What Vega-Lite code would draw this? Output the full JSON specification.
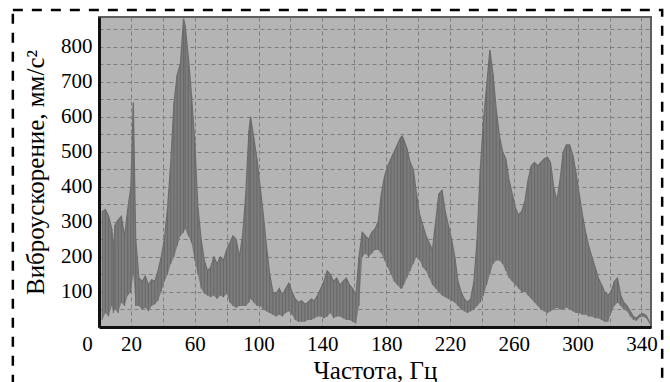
{
  "$schema": "https://vega.github.io/schema/vega-lite/v6.json",
  "width": 552,
  "height": 310,
  "autosize": {"type": "none"},
  "padding": {"left": 99, "top": 17, "right": 19, "bottom": 55},
  "background": "white",
  "config": {
    "view": {"fill": "#b4b4b4", "stroke": "#5e5e5e", "strokeWidth": 2},
    "axis": {"labelFont": "Liberation Serif", "titleFont": "Liberation Serif", "labelFontSize": 21, "titleFontSize": 25, "labelColor": "black", "titleColor": "black", "titleFontWeight": "normal", "ticks": false, "domainColor": "#111111", "domainWidth": 3, "gridColor": "#7e7e7e", "gridDash": [4, 3], "gridWidth": 1, "labelOverlap": false, "labelFlush": false, "labelBound": false}
  },
  "datasets": {
    "spec": [
      {"f": 2, "lo": 20, "hi": 330}, {"f": 4, "lo": 40, "hi": 335}, {"f": 6, "lo": 30, "hi": 316}, {"f": 8, "lo": 60, "hi": 280},
      {"f": 9, "lo": 40, "hi": 220}, {"f": 10, "lo": 50, "hi": 290}, {"f": 12, "lo": 40, "hi": 306}, {"f": 14, "lo": 70, "hi": 316},
      {"f": 16, "lo": 60, "hi": 258}, {"f": 18, "lo": 90, "hi": 335}, {"f": 20, "lo": 100, "hi": 400}, {"f": 21.5, "lo": 150, "hi": 640},
      {"f": 23, "lo": 60, "hi": 250}, {"f": 25, "lo": 60, "hi": 140}, {"f": 27, "lo": 50, "hi": 130}, {"f": 29, "lo": 55, "hi": 145},
      {"f": 31, "lo": 45, "hi": 120}, {"f": 33, "lo": 60, "hi": 135}, {"f": 35, "lo": 65, "hi": 130}, {"f": 37, "lo": 75, "hi": 160},
      {"f": 39, "lo": 100, "hi": 200}, {"f": 41, "lo": 130, "hi": 250}, {"f": 43, "lo": 150, "hi": 340}, {"f": 45, "lo": 180, "hi": 470},
      {"f": 47, "lo": 200, "hi": 640}, {"f": 49, "lo": 230, "hi": 720}, {"f": 51, "lo": 260, "hi": 750}, {"f": 53, "lo": 270, "hi": 880},
      {"f": 54, "lo": 280, "hi": 860}, {"f": 56, "lo": 260, "hi": 770}, {"f": 58, "lo": 240, "hi": 660}, {"f": 60, "lo": 190, "hi": 530},
      {"f": 62, "lo": 150, "hi": 340}, {"f": 64, "lo": 110, "hi": 250}, {"f": 66, "lo": 95, "hi": 190}, {"f": 68, "lo": 90, "hi": 160},
      {"f": 70, "lo": 85, "hi": 170}, {"f": 72, "lo": 90, "hi": 200}, {"f": 74, "lo": 80, "hi": 180}, {"f": 76, "lo": 90, "hi": 200},
      {"f": 78, "lo": 85, "hi": 190}, {"f": 80, "lo": 95, "hi": 220}, {"f": 82, "lo": 70, "hi": 240}, {"f": 84, "lo": 60, "hi": 260},
      {"f": 86, "lo": 55, "hi": 250}, {"f": 88, "lo": 60, "hi": 200}, {"f": 90, "lo": 60, "hi": 260}, {"f": 92, "lo": 60, "hi": 380},
      {"f": 94, "lo": 70, "hi": 560}, {"f": 95, "lo": 80, "hi": 600}, {"f": 97, "lo": 70, "hi": 540}, {"f": 99, "lo": 60, "hi": 480},
      {"f": 101, "lo": 60, "hi": 400}, {"f": 103, "lo": 50, "hi": 320}, {"f": 105, "lo": 45, "hi": 230}, {"f": 107, "lo": 40, "hi": 150},
      {"f": 109, "lo": 35, "hi": 100}, {"f": 111, "lo": 30, "hi": 95}, {"f": 113, "lo": 35, "hi": 110}, {"f": 115, "lo": 30, "hi": 90},
      {"f": 117, "lo": 40, "hi": 110}, {"f": 119, "lo": 45, "hi": 125}, {"f": 121, "lo": 35, "hi": 100}, {"f": 123, "lo": 20, "hi": 80},
      {"f": 125, "lo": 15, "hi": 70}, {"f": 127, "lo": 15, "hi": 75}, {"f": 129, "lo": 15, "hi": 65}, {"f": 131, "lo": 20, "hi": 70},
      {"f": 133, "lo": 20, "hi": 80}, {"f": 135, "lo": 25, "hi": 75}, {"f": 137, "lo": 30, "hi": 90}, {"f": 139, "lo": 30, "hi": 110},
      {"f": 141, "lo": 25, "hi": 130}, {"f": 143, "lo": 30, "hi": 160}, {"f": 145, "lo": 40, "hi": 150}, {"f": 147, "lo": 25, "hi": 130},
      {"f": 149, "lo": 30, "hi": 140}, {"f": 151, "lo": 30, "hi": 120}, {"f": 153, "lo": 25, "hi": 130}, {"f": 155, "lo": 20, "hi": 140},
      {"f": 157, "lo": 20, "hi": 120}, {"f": 159, "lo": 15, "hi": 110}, {"f": 161, "lo": 10, "hi": 90}, {"f": 163, "lo": 60, "hi": 200},
      {"f": 165, "lo": 200, "hi": 270}, {"f": 167, "lo": 210, "hi": 260}, {"f": 169, "lo": 200, "hi": 250}, {"f": 171, "lo": 210, "hi": 270},
      {"f": 173, "lo": 220, "hi": 280}, {"f": 175, "lo": 220, "hi": 300}, {"f": 177, "lo": 210, "hi": 380}, {"f": 179, "lo": 190, "hi": 430},
      {"f": 181, "lo": 170, "hi": 460}, {"f": 183, "lo": 150, "hi": 480}, {"f": 185, "lo": 130, "hi": 500}, {"f": 187, "lo": 120, "hi": 520},
      {"f": 189, "lo": 110, "hi": 540}, {"f": 190, "lo": 110, "hi": 545}, {"f": 191, "lo": 120, "hi": 535}, {"f": 193, "lo": 140, "hi": 510},
      {"f": 195, "lo": 160, "hi": 470}, {"f": 197, "lo": 180, "hi": 450}, {"f": 199, "lo": 200, "hi": 380}, {"f": 201, "lo": 190, "hi": 320},
      {"f": 203, "lo": 170, "hi": 290}, {"f": 205, "lo": 160, "hi": 260}, {"f": 207, "lo": 140, "hi": 240}, {"f": 209, "lo": 120, "hi": 220},
      {"f": 211, "lo": 110, "hi": 300}, {"f": 213, "lo": 100, "hi": 380}, {"f": 215, "lo": 90, "hi": 390}, {"f": 217, "lo": 85, "hi": 330},
      {"f": 219, "lo": 80, "hi": 290}, {"f": 221, "lo": 75, "hi": 250}, {"f": 223, "lo": 70, "hi": 200}, {"f": 225, "lo": 60, "hi": 130},
      {"f": 227, "lo": 50, "hi": 100}, {"f": 229, "lo": 45, "hi": 80}, {"f": 231, "lo": 40, "hi": 70}, {"f": 233, "lo": 45, "hi": 80},
      {"f": 235, "lo": 50, "hi": 130}, {"f": 237, "lo": 60, "hi": 250}, {"f": 239, "lo": 70, "hi": 450}, {"f": 241, "lo": 90, "hi": 590},
      {"f": 243, "lo": 120, "hi": 690}, {"f": 245, "lo": 150, "hi": 790}, {"f": 247, "lo": 180, "hi": 720}, {"f": 249, "lo": 190, "hi": 620},
      {"f": 251, "lo": 190, "hi": 545}, {"f": 253, "lo": 180, "hi": 500}, {"f": 255, "lo": 160, "hi": 480}, {"f": 257, "lo": 140, "hi": 420},
      {"f": 259, "lo": 130, "hi": 380}, {"f": 261, "lo": 120, "hi": 340}, {"f": 263, "lo": 110, "hi": 320}, {"f": 265, "lo": 100, "hi": 330},
      {"f": 267, "lo": 100, "hi": 360}, {"f": 269, "lo": 90, "hi": 420}, {"f": 271, "lo": 80, "hi": 460}, {"f": 273, "lo": 70, "hi": 470},
      {"f": 275, "lo": 60, "hi": 460}, {"f": 277, "lo": 50, "hi": 470}, {"f": 279, "lo": 45, "hi": 480}, {"f": 281, "lo": 40, "hi": 485},
      {"f": 283, "lo": 45, "hi": 470}, {"f": 285, "lo": 50, "hi": 400}, {"f": 287, "lo": 55, "hi": 360}, {"f": 289, "lo": 50, "hi": 420},
      {"f": 291, "lo": 50, "hi": 500}, {"f": 293, "lo": 55, "hi": 520}, {"f": 295, "lo": 50, "hi": 520}, {"f": 297, "lo": 45, "hi": 490},
      {"f": 299, "lo": 40, "hi": 440}, {"f": 301, "lo": 40, "hi": 380}, {"f": 303, "lo": 35, "hi": 320}, {"f": 305, "lo": 35, "hi": 270},
      {"f": 307, "lo": 30, "hi": 230}, {"f": 309, "lo": 30, "hi": 200}, {"f": 311, "lo": 25, "hi": 170}, {"f": 313, "lo": 25, "hi": 140},
      {"f": 315, "lo": 20, "hi": 120}, {"f": 317, "lo": 15, "hi": 100}, {"f": 319, "lo": 15, "hi": 90}, {"f": 321, "lo": 40, "hi": 100},
      {"f": 323, "lo": 60, "hi": 130}, {"f": 325, "lo": 70, "hi": 140}, {"f": 327, "lo": 60, "hi": 90}, {"f": 329, "lo": 50, "hi": 70},
      {"f": 331, "lo": 45, "hi": 60}, {"f": 333, "lo": 30, "hi": 45}, {"f": 335, "lo": 20, "hi": 30}, {"f": 337, "lo": 18, "hi": 25},
      {"f": 339, "lo": 28, "hi": 35}, {"f": 341, "lo": 30, "hi": 38}, {"f": 343, "lo": 25, "hi": 32}, {"f": 345, "lo": 10, "hi": 15}
    ]
  },
  "layer": [
    {
      "data": {"name": "spec"},
      "encoding": {
        "x": {"field": "f", "type": "quantitative", "scale": {"domain": [0, 346], "nice": false, "zero": false},
          "axis": {"title": "Частота, Гц", "values": [0, 20, 40, 60, 80, 100, 120, 140, 160, 180, 200, 220, 240, 260, 280, 300, 320, 340],
            "labelExpr": "indexof([0, 20, 60, 100, 140, 180, 220, 260, 300, 340], datum.value) >= 0 ? datum.label : ''",
            "labelOffset": {"condition": {"test": "datum.value == 0", "value": -12}, "value": 0},
            "grid": true, "labelPadding": 6, "titlePadding": 4}},
        "y": {"field": "lo", "type": "quantitative", "scale": {"domain": [0, 885], "nice": false},
          "axis": {"title": "Виброускорение, мм/с²", "values": [50, 100, 150, 200, 250, 300, 350, 400, 450, 500, 550, 600, 650, 700, 750, 800, 850],
            "labelExpr": "indexof([100, 200, 300, 400, 500, 600, 700, 800], datum.value) >= 0 ? datum.label : ''", "grid": true, "labelPadding": 7, "titlePadding": 12}}
      },
      "layer": [
        {"mark": {"type": "area", "color": "#7c7c7c", "opacity": 1}, "encoding": {"y2": {"field": "hi"}}},
        {"mark": {"type": "rule", "color": "#686868", "strokeWidth": 1}, "encoding": {"y2": {"field": "hi"}}},
        {"mark": {"type": "line", "color": "#6c6c6c", "strokeWidth": 1.2}, "encoding": {"y": {"field": "hi", "type": "quantitative"}}}
      ]
    },
    {
      "data": {"values": [{"frame": "border"}]},
      "mark": {"type": "rect", "filled": false, "stroke": "black", "strokeWidth": 2.5, "strokeDash": [10, 9], "clip": false},
      "encoding": {
        "x": {"datum": -54, "type": "quantitative", "scale": {"domain": [0, 346], "nice": false, "zero": false},
          "axis": {"title": "Частота, Гц", "values": [0, 20, 40, 60, 80, 100, 120, 140, 160, 180, 200, 220, 240, 260, 280, 300, 320, 340],
            "labelExpr": "indexof([0, 20, 60, 100, 140, 180, 220, 260, 300, 340], datum.value) >= 0 ? datum.label : ''",
            "labelOffset": {"condition": {"test": "datum.value == 0", "value": -12}, "value": 0},
            "grid": true, "labelPadding": 6, "titlePadding": 4}},
        "x2": {"datum": 353},
        "y": {"datum": 905, "type": "quantitative", "scale": {"domain": [0, 885], "nice": false},
          "axis": {"title": "Виброускорение, мм/с²", "values": [50, 100, 150, 200, 250, 300, 350, 400, 450, 500, 550, 600, 650, 700, 750, 800, 850],
            "labelExpr": "indexof([100, 200, 300, 400, 500, 600, 700, 800], datum.value) >= 0 ? datum.label : ''", "grid": true, "labelPadding": 7, "titlePadding": 12}},
        "y2": {"datum": -190}
      }
    }
  ]
}
